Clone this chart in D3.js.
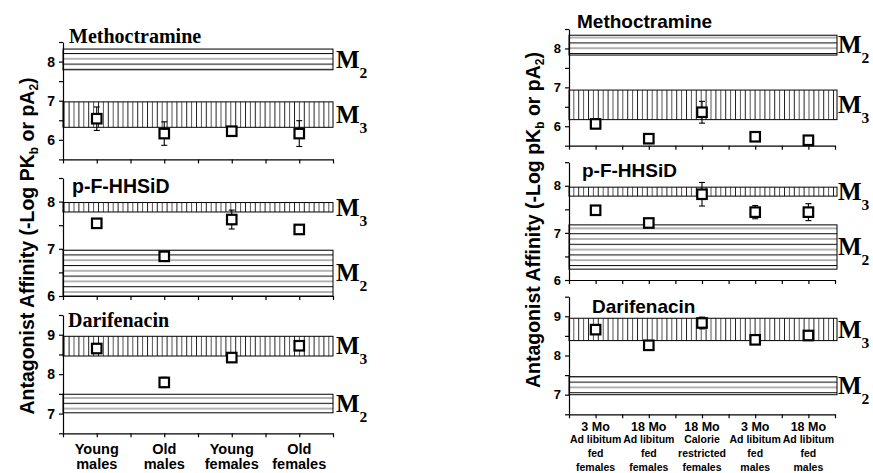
<!DOCTYPE html>
<html><head><meta charset="utf-8">
<script src="https://cdn.jsdelivr.net/npm/d3@7"></script>
<style>
html,body{margin:0;padding:0;background:#fff;}
svg{display:block;}
.tk text{font-family:Arial,"Liberation Sans",sans-serif;font-weight:bold;}
</style></head>
<body>
<svg id="c" width="873" height="473"></svg>
<script>
// ---------- DATA ----------
const leftCatLine1 = ["Young", "Old", "Young", "Old"];
const leftCatLine2 = ["males", "males", "females", "females"];

const leftMetho = [6.54, 6.16, 6.22, 6.16];
const leftMethoErr = [0.30, 0.30, 0.05, 0.33];
const leftPF = [7.54, 6.84, 7.62, 7.41];
const leftPFErr = [0.06, 0.06, 0.20, 0.05];
const leftDari = [8.65, 7.79, 8.42, 8.72];
const leftDariErr = [0.05, 0.13, 0.04, 0.06];

const leftMethoM2 = [7.79, 8.32], leftMethoM3 = [6.32, 6.97];
const leftPFM3 = [7.78, 7.98], leftPFM2 = [6.0, 6.97];
const leftDariM3 = [8.46, 8.96], leftDariM2 = [7.02, 7.49];

const rightCatLine1 = ["3 Mo", "18 Mo", "18 Mo", "3 Mo", "18 Mo"];
const rightCatLine2 = ["Ad libitum", "Ad libitum", "Calorie", "Ad libitum", "Ad libitum"];
const rightCatLine3 = ["fed", "fed", "restricted", "fed", "fed"];
const rightCatLine4 = ["females", "females", "females", "males", "males"];

const rightMetho = [6.06, 5.68, 6.36, 5.73, 5.64];
const rightMethoErr = [0.07, 0.10, 0.28, 0.05, 0.12];
const rightPF = [7.48, 7.21, 7.82, 7.44, 7.44];
const rightPFErr = [0.05, 0.05, 0.25, 0.14, 0.18];
const rightDari = [8.66, 8.26, 8.83, 8.40, 8.51];
const rightDariErr = [0.05, 0.04, 0.15, 0.05, 0.04];

const rightMethoM2 = [7.83, 8.34], rightMethoM3 = [6.17, 6.93];
const rightPFM3 = [7.78, 7.97], rightPFM2 = [6.23, 7.17];
const rightDariM3 = [8.38, 8.95], rightDariM2 = [7.0, 7.46];

const domMetho = [5.5, 8.5], domPF = [6, 8.5], domDari = [6.5, 9.5];
const yTickLabels = {metho: [6, 7, 8], pf: [6, 7, 8], dari: [7, 8, 9]};

// ---------- DRAW ----------
const svg = d3.select("#c");
const defs = svg.append("defs");
const ph = defs.append("pattern").attr("id", "hpat").attr("patternUnits", "userSpaceOnUse")
  .attr("width", 10).attr("height", 10.6);
ph.append("rect").attr("width", 10).attr("height", 10.6).attr("fill", "#fff");
ph.append("line").attr("x1", 0).attr("x2", 10).attr("y1", 0.5).attr("y2", 0.5).attr("stroke", "#111").attr("stroke-width", 1.1);
ph.append("line").attr("x1", 0).attr("x2", 10).attr("y1", 5.8).attr("y2", 5.8).attr("stroke", "#777").attr("stroke-width", 1.1);
const pv = defs.append("pattern").attr("id", "vpat").attr("patternUnits", "userSpaceOnUse")
  .attr("width", 9.8).attr("height", 10);
pv.append("rect").attr("width", 9.8).attr("height", 10).attr("fill", "#fff");
pv.append("line").attr("y1", 0).attr("y2", 10).attr("x1", 0.5).attr("x2", 0.5).attr("stroke", "#222").attr("stroke-width", 1);
pv.append("line").attr("y1", 0).attr("y2", 10).attr("x1", 5.4).attr("x2", 5.4).attr("stroke", "#555").attr("stroke-width", 1);

const SANS = "Arial, 'Liberation Sans', sans-serif";
const SERIF = "'Times New Roman', 'Liberation Serif', serif";

function panel(o) {
  const n = o.values.length;
  const x = d3.scaleLinear().domain([0.5, n + 0.5]).range([o.x0, o.x1]);
  const y = d3.scaleLinear().domain(o.domain).range([o.y1, o.y0]);
  const g = svg.append("g");
  // bands
  o.bands.forEach(b => {
    g.append("rect").attr("x", x(0.5)).attr("width", x(n + 0.5) - x(0.5) + (o.bandExtra || 0))
      .attr("y", y(b.r[1])).attr("height", y(b.r[0]) - y(b.r[1]))
      .attr("fill", b.type === "M2" ? "url(#hpat)" : "url(#vpat)")
      .attr("stroke", "#000").attr("stroke-width", 1);
    const cy = (y(b.r[0]) + y(b.r[1])) / 2;
    const t = g.append("text").attr("x", x(n + 0.5) + 3).attr("y", cy + o.mSize * 0.33)
      .attr("font-family", SERIF).attr("font-weight", "bold").attr("font-size", o.mSize)
      .attr("fill", "#000");
    t.append("tspan").text("M");
    t.append("tspan").attr("font-size", o.mSize * 0.62).attr("dy", o.mSize * 0.4).text(b.type === "M2" ? "2" : "3");
  });
  // y axis
  const ticks = d3.range(o.domain[0], o.domain[1] + 0.001, 0.5);
  const ya = d3.axisLeft(y).tickValues(ticks).tickSize(4).tickSizeOuter(0)
    .tickFormat(d => o.labels.includes(d) ? d3.format("d")(d) : "");
  g.append("g").attr("class", "tk").attr("transform", `translate(${o.x0},0)`).call(ya)
    .call(s => s.selectAll("text").attr("font-size", o.tickFont).attr("fill", "#000").attr("dx", "-1"))
    .call(s => s.selectAll("line,path").attr("stroke", "#000").attr("stroke-width", 1.2));
  // x axis
  const xa = d3.axisBottom(x).tickValues(d3.range(0.5, n + 0.51, 0.5)).tickSize(4).tickSizeOuter(0).tickFormat("");
  g.append("g").attr("class", "tk").attr("transform", `translate(0,${o.y1})`).call(xa)
    .call(s => s.selectAll("line,path").attr("stroke", "#000").attr("stroke-width", 1.2));
  // title
  g.append("text").attr("x", o.titleX).attr("y", o.titleY).text(o.title)
    .attr("font-family", o.titleSerif ? SERIF : SANS).attr("font-weight", "bold")
    .attr("font-size", o.titleSize).attr("fill", "#000");
  // error bars (behind markers)
  const eb = g.append("g").attr("stroke", "#000").attr("stroke-width", 1.1);
  o.values.forEach((v, i) => {
    const e = o.errs[i], cx = x(i + 1);
    eb.append("line").attr("x1", cx).attr("x2", cx).attr("y1", y(v + e)).attr("y2", y(v - e));
    [v + e, v - e].forEach(w => eb.append("line").attr("x1", cx - 3).attr("x2", cx + 3).attr("y1", y(w)).attr("y2", y(w)));
  });
  // markers
  const s = o.markerSize;
  g.selectAll("rect.pt").data(o.values).enter().append("rect").attr("class", "pt")
    .attr("x", (d, i) => x(i + 1) - s / 2).attr("y", d => y(d) - s / 2)
    .attr("width", s).attr("height", s)
    .attr("fill", "#fff").attr("stroke", "#000").attr("stroke-width", 2.2);
  return x;
}

// LEFT FIGURE
const L = {x0: 63, x1: 333, mSize: 25, tickFont: 14, markerSize: 9.5, titleSize: 20};
panel(Object.assign({}, L, {y0: 42, y1: 159.4, domain: domMetho, labels: yTickLabels.metho,
  values: leftMetho, errs: leftMethoErr, title: "Methoctramine", titleSerif: true, titleX: 69, titleY: 43,
  bands: [{type: "M2", r: leftMethoM2}, {type: "M3", r: leftMethoM3}]}));
panel(Object.assign({}, L, {y0: 178, y1: 296, domain: domPF, labels: yTickLabels.pf,
  values: leftPF, errs: leftPFErr, title: "p-F-HHSiD", titleSerif: false, titleX: 72, titleY: 193, titleSize: 19.5,
  bands: [{type: "M3", r: leftPFM3}, {type: "M2", r: leftPFM2}]}));
const xL = panel(Object.assign({}, L, {y0: 315, y1: 433.3, domain: domDari, labels: yTickLabels.dari,
  values: leftDari, errs: leftDariErr, title: "Darifenacin", titleSerif: true, titleX: 68, titleY: 327,
  bands: [{type: "M3", r: leftDariM3}, {type: "M2", r: leftDariM2}]}));

leftCatLine1.forEach((c, i) => {
  const t = svg.append("text").attr("x", xL(i + 1)).attr("y", 453.5).attr("text-anchor", "middle")
    .attr("font-family", SANS).attr("font-weight", "bold").attr("font-size", 14.5).attr("fill", "#000");
  t.append("tspan").attr("x", xL(i + 1)).text(c);
  t.append("tspan").attr("x", xL(i + 1)).attr("dy", 15.5).text(leftCatLine2[i]);
});

function yTitle(xp, yp, pk) {
  const t = svg.append("text").attr("transform", `translate(${xp},${yp}) rotate(-90)`)
    .attr("text-anchor", "middle").attr("font-family", SANS).attr("font-weight", "bold")
    .attr("font-size", 19.5).attr("fill", "#000");
  t.append("tspan").text("Antagonist Affinity (-Log " + pk);
  t.append("tspan").attr("font-size", 12).attr("dy", 4).text("b");
  t.append("tspan").attr("dy", -4).text(" or pA");
  t.append("tspan").attr("font-size", 12).attr("dy", 4).text("2");
  t.append("tspan").attr("dy", -4).text(")");
}
yTitle(34, 246, "PK");

// RIGHT FIGURE
const R = {x0: 569, x1: 835, mSize: 25, tickFont: 13, markerSize: 9.5, titleSize: 19, bandExtra: 2};
panel(Object.assign({}, R, {y0: 29, y1: 145.7, domain: domMetho, labels: yTickLabels.metho,
  values: rightMetho, errs: rightMethoErr, title: "Methoctramine", titleX: 577, titleY: 28,
  bands: [{type: "M2", r: rightMethoM2}, {type: "M3", r: rightMethoM3}]}));
panel(Object.assign({}, R, {y0: 162.2, y1: 280, domain: domPF, labels: yTickLabels.pf,
  values: rightPF, errs: rightPFErr, title: "p-F-HHSiD", titleX: 582, titleY: 177,
  bands: [{type: "M3", r: rightPFM3}, {type: "M2", r: rightPFM2}]}));
const xR = panel(Object.assign({}, R, {y0: 296.7, y1: 414.3, domain: domDari, labels: yTickLabels.dari,
  values: rightDari, errs: rightDariErr, title: "Darifenacin", titleX: 592, titleY: 313,
  bands: [{type: "M3", r: rightDariM3}, {type: "M2", r: rightDariM2}]}));

rightCatLine1.forEach((c, i) => {
  const cx = xR(i + 1);
  const g = svg.append("g").attr("font-family", SANS).attr("font-weight", "bold").attr("fill", "#000").attr("text-anchor", "middle");
  g.append("text").attr("x", cx).attr("y", 430.5).attr("font-size", 12.5).text(c);
  g.append("text").attr("x", cx).attr("y", 443).attr("font-size", 10.5).text(rightCatLine2[i]);
  g.append("text").attr("x", cx).attr("y", 457).attr("font-size", 10.5).text(rightCatLine3[i]);
  g.append("text").attr("x", cx).attr("y", 471).attr("font-size", 10.5).text(rightCatLine4[i]);
});
yTitle(540, 220, "pK");
</script>
</body></html>
